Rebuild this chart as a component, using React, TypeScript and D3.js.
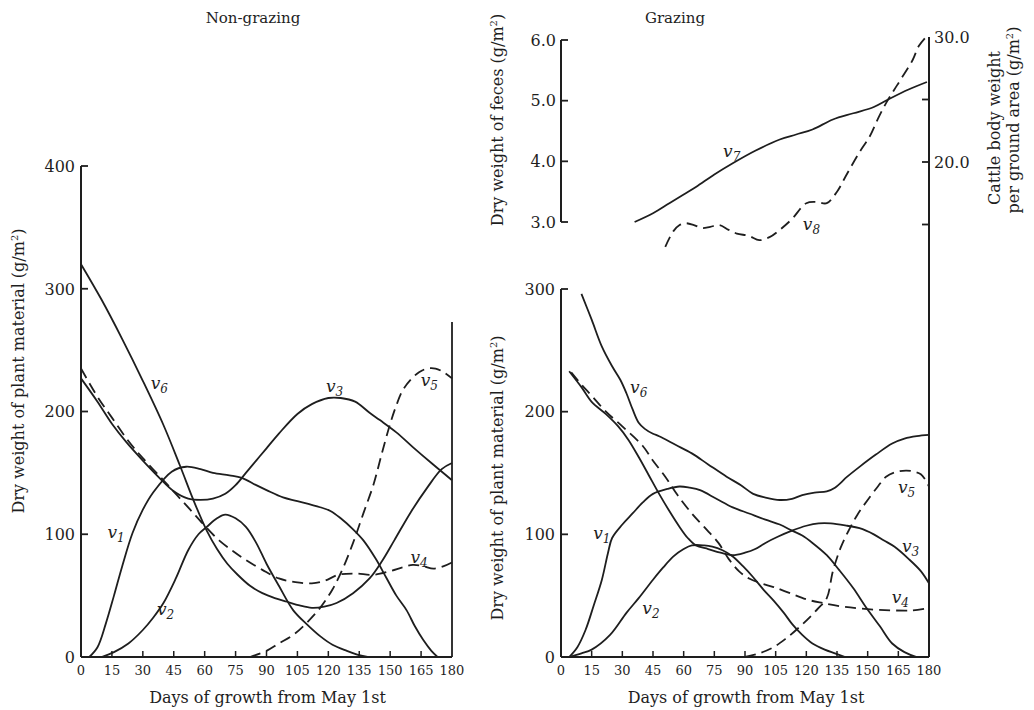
import React from 'react';
import * as d3 from 'd3';

type Pt = [number, number];

// ---- Non-grazing (left) : days, g/m2
const ngV1: Pt[] = [[4,0],[8,8],[12,27],[16,50],[20,74],[25,101],[30,120],[35,134],[44,151],[51,155],[58,153],[64,150],[72,148],[78,146],[85,140],[90,136],[98,130],[105,127],[116,122],[121,119],[126,113],[132,104],[137,95],[143,80],[148,65],[153,50],[158,38],[162,25],[166,14],[170,5],[173,0]];
const ngV2: Pt[] = [[10,0],[16,4],[23,11],[30,22],[35,32],[40,44],[46,64],[52,87],[57,100],[61,106],[66,113],[70,116],[75,113],[80,106],[85,93],[90,76],[96,58],[103,38],[110,26],[116,17],[122,10],[129,5],[134,2],[139,0]];
const ngV3: Pt[] = [[0,227],[8,208],[15,190],[22,175],[30,160],[38,146],[45,135],[52,129],[58,128],[64,129],[70,133],[75,140],[80,150],[85,160],[90,170],[96,182],[105,198],[112,206],[120,211],[126,211],[133,208],[140,199],[145,193],[153,183],[161,171],[170,158],[180,144]];
const ngV4: Pt[] = [[0,235],[8,212],[15,195],[23,176],[30,162],[40,144],[47,131],[53,120],[60,107],[67,95],[74,86],[80,79],[88,71],[96,64],[104,61],[112,60],[118,62],[125,67],[133,68],[142,67],[150,70],[156,73],[161,75],[166,74],[171,72],[176,74],[180,77]];
const ngV5: Pt[] = [[82,0],[90,5],[96,11],[103,18],[109,27],[116,40],[122,55],[127,72],[132,93],[137,117],[142,141],[146,166],[150,190],[153,205],[156,217],[160,226],[164,232],[168,235],[172,235],[176,232],[180,227]];
const ngV6: Pt[] = [[0,320],[10,291],[20,259],[30,225],[40,189],[48,156],[55,126],[61,103],[66,88],[71,76],[76,67],[82,58],[88,52],[94,48],[100,45],[106,42],[112,40],[118,41],[124,44],[132,52],[140,64],[146,78],[152,95],[160,118],[168,138],[175,153],[180,158]];

// ---- Grazing (right lower)
const gV1: Pt[] = [[4,0],[8,8],[12,22],[16,42],[20,63],[23,85],[25,97],[30,108],[35,117],[40,126],[45,133],[52,137],[58,139],[63,138],[68,136],[76,129],[84,122],[92,117],[100,112],[107,108],[113,103],[118,99],[123,93],[130,83],[136,71],[143,56],[149,41],[156,25],[162,11],[168,4],[174,0]];
const gV2: Pt[] = [[4,0],[10,3],[15,6],[24,18],[32,36],[38,48],[45,63],[50,73],[55,82],[60,88],[64,91],[70,91],[74,90],[79,87],[84,82],[89,74],[94,65],[99,55],[104,46],[109,36],[113,27],[118,18],[123,11],[129,6],[134,3],[139,0]];
const gV3: Pt[] = [[4,233],[10,220],[15,208],[22,198],[28,188],[33,177],[38,163],[43,148],[48,133],[53,119],[58,106],[62,97],[66,91],[72,88],[78,85],[84,83],[90,85],[95,88],[100,93],[106,98],[113,103],[120,107],[126,109],[132,109],[140,107],[146,105],[153,100],[158,95],[163,90],[170,80],[176,70],[180,60]];
const gV4: Pt[] = [[5,232],[10,222],[15,213],[22,200],[30,188],[40,172],[45,160],[51,147],[57,132],[64,117],[70,106],[77,93],[82,80],[87,70],[92,64],[98,60],[104,57],[112,52],[120,47],[128,44],[138,41],[150,39],[162,38],[172,38],[180,40]];
const gV5: Pt[] = [[90,0],[97,3],[104,8],[110,15],[117,25],[122,33],[126,40],[130,48],[133,70],[137,90],[141,104],[145,116],[150,128],[155,139],[159,147],[164,151],[169,152],[173,151],[176,149],[178,145],[180,139]];
const gV6: Pt[] = [[10,296],[15,275],[20,253],[25,237],[29,226],[32,215],[35,202],[38,191],[41,186],[45,182],[48,180],[56,173],[64,166],[72,157],[81,147],[88,140],[94,133],[100,130],[107,128],[113,129],[118,132],[124,134],[130,135],[134,138],[140,147],[146,155],[154,165],[162,174],[168,178],[174,180],[180,181]];

// ---- Grazing (top): v7 cattle body weight, v8 feces
const gV7: Pt[] = [[36,15.2],[45,15.9],[53,16.7],[60,17.4],[66,18.0],[75,19.0],[84,19.9],[95,20.9],[107,21.8],[115,22.2],[123,22.6],[133,23.4],[143,23.9],[153,24.4],[160,25.0],[170,25.8],[179,26.4]];
const gV8: Pt[] = [[51,2.59],[55,2.85],[58,2.95],[61,2.98],[65,2.95],[69,2.90],[73,2.92],[77.5,2.95],[82,2.87],[86,2.81],[92,2.77],[97,2.70],[102,2.75],[107,2.87],[113,3.05],[120,3.31],[125,3.33],[130,3.31],[135,3.50],[140,3.80],[146,4.15],[151,4.41],[155,4.70],[159,4.96],[163,5.18],[166,5.34],[172,5.67],[175,5.90],[178,6.03]];

const dayTicks = [0, 15, 30, 45, 60, 75, 90, 105, 120, 135, 150, 165, 180];
const leftTicks = [0, 100, 200, 300, 400];
const rightTicks = [0, 100, 200, 300];
const fecesTicks = [3, 4, 5, 6];
const cattleTicks = [15, 20, 25, 30];
const cattleLabelled = [20, 30];

// label positions in data units
const ngLabels: [string, number, number][] = [['6', 38, 222], ['3', 123, 220], ['5', 169, 225], ['1', 17, 101], ['2', 41, 38], ['4', 164, 81]];
const gLabels: [string, number, number][] = [['6', 38, 219], ['1', 20, 100], ['2', 44, 39], ['5', 169, 138], ['3', 171, 90], ['4', 166, 48]];

const INK = '#1e1e1e';
const SERIF = '"DejaVu Serif", "Liberation Serif", serif';

const xL = d3.scaleLinear().domain([0, 180]).range([81, 452]);
const yL = d3.scaleLinear().domain([0, 400]).range([657, 166]);
const xR = d3.scaleLinear().domain([0, 180]).range([561, 929]);
const yR = d3.scaleLinear().domain([0, 300]).range([657, 289]);
const yFeces = d3.scaleLinear().domain([3, 6]).range([222, 40]);
const yCattle = d3.scaleLinear().domain([15, 30]).range([224.5, 37]);

const mkLine = (x: d3.ScaleLinear<number, number>, y: d3.ScaleLinear<number, number>) =>
  d3.line<Pt>().x(d => x(d[0])).y(d => y(d[1])).curve(d3.curveCatmullRom.alpha(0.5));

const Curve = ({ d, dashed }: { d: string | null; dashed?: boolean }) => (
  <path d={d || ''} fill="none" stroke={INK} strokeWidth={1.8} strokeDasharray={dashed ? '11,6' : undefined} />
);

const VLabel = ({ sub, x, y }: { sub: string; x: number; y: number }) => (
  <text x={x} y={y} fontFamily={SERIF} fontStyle="italic" fill={INK} textAnchor="middle" fontSize={17}>
    v<tspan fontSize={12} dy={4}>{sub}</tspan>
  </text>
);

const XAxis = ({ x }: { x: d3.ScaleLinear<number, number> }) => (
  <g>
    <line x1={x(0)} x2={x(180)} y1={657} y2={657} stroke={INK} strokeWidth={2} />
    {dayTicks.map(t => (
      <g key={t}>
        {t > 0 && t < 180 && <line x1={x(t)} x2={x(t)} y1={657} y2={651} stroke={INK} strokeWidth={1.5} />}
        <text x={x(t)} y={675} textAnchor="middle" fontFamily={SERIF} fontSize={13} fill={INK}>{t}</text>
      </g>
    ))}
    <text x={(x(0) + x(180)) / 2 + 1} y={703} textAnchor="middle" fontFamily={SERIF} fontSize={16} fill={INK}>
      Days of growth from May 1st
    </text>
  </g>
);

const YAxisLeft = ({ ax, y, ticks, fmt, top }: { ax: number; y: d3.ScaleLinear<number, number>; ticks: number[]; fmt: (v: number) => string; top: number }) => (
  <g>
    <line x1={ax} x2={ax} y1={y(top)} y2={y(ticks[0])} stroke={INK} strokeWidth={2} />
    {ticks.map(t => (
      <g key={t}>
        <line x1={ax} x2={ax + 7} y1={y(t)} y2={y(t)} stroke={INK} strokeWidth={1.8} />
        <text x={ax - 6} y={y(t)} dy="0.36em" textAnchor="end" fontFamily={SERIF} fontSize={16} fill={INK}>{fmt(t)}</text>
      </g>
    ))}
  </g>
);

export default function App() {
  const lineL = mkLine(xL, yL);
  const lineR = mkLine(xR, yR);
  const lineF = mkLine(xR, yFeces);
  const lineC = mkLine(xR, yCattle);

  return (
    <svg width={1034} height={710} style={{ position: 'absolute', left: 0, top: 0, background: 'white' }}>
      {/* titles */}
      <text x={253} y={23} textAnchor="middle" fontFamily={SERIF} fontSize={15} fill={INK}>Non-grazing</text>
      <text x={675} y={23} textAnchor="middle" fontFamily={SERIF} fontSize={15} fill={INK}>Grazing</text>

      {/* ---- left panel ---- */}
      <YAxisLeft ax={xL(0)} y={yL} ticks={leftTicks} fmt={v => String(v)} top={400} />
      <line x1={xL(180)} x2={xL(180)} y1={322} y2={657} stroke={INK} strokeWidth={1.8} />
      <XAxis x={xL} />
      <text transform={`translate(24,371) rotate(-90)`} textAnchor="middle" fontFamily={SERIF} fontSize={16} fill={INK}>
        Dry weight of plant material  (g/m<tspan fontSize={10} dy={-6}>2</tspan><tspan dy={6}>)</tspan>
      </text>
      <Curve d={lineL(ngV6)} />
      <Curve d={lineL(ngV1)} />
      <Curve d={lineL(ngV2)} />
      <Curve d={lineL(ngV3)} />
      <Curve d={lineL(ngV4)} dashed />
      <Curve d={lineL(ngV5)} dashed />
      {ngLabels.map(([s, dx, v]) => <VLabel key={s} sub={s} x={xL(dx)} y={yL(v) + 5} />)}

      {/* ---- right lower panel ---- */}
      <YAxisLeft ax={xR(0)} y={yR} ticks={rightTicks} fmt={v => String(v)} top={300} />
      <XAxis x={xR} />
      <text transform={`translate(503,478) rotate(-90)`} textAnchor="middle" fontFamily={SERIF} fontSize={16} fill={INK}>
        Dry weight of plant material  (g/m<tspan fontSize={10} dy={-6}>2</tspan><tspan dy={6}>)</tspan>
      </text>
      <Curve d={lineR(gV6)} />
      <Curve d={lineR(gV1)} />
      <Curve d={lineR(gV2)} />
      <Curve d={lineR(gV3)} />
      <Curve d={lineR(gV4)} dashed />
      <Curve d={lineR(gV5)} dashed />
      {gLabels.map(([s, dx, v]) => <VLabel key={s} sub={s} x={xR(dx)} y={yR(v) + 5} />)}

      {/* ---- right top panel ---- */}
      <line x1={xR(0)} x2={xR(0)} y1={yFeces(6)} y2={yFeces(3)} stroke={INK} strokeWidth={2} />
      {fecesTicks.map(t => (
        <g key={t}>
          <line x1={xR(0)} x2={xR(0) + 7} y1={yFeces(t)} y2={yFeces(t)} stroke={INK} strokeWidth={1.8} />
          <text x={xR(0) - 5} y={yFeces(t)} dy="0.36em" textAnchor="end" fontFamily={SERIF} fontSize={16} fill={INK}>{t.toFixed(1)}</text>
        </g>
      ))}
      <text transform={`translate(503,120) rotate(-90)`} textAnchor="middle" fontFamily={SERIF} fontSize={16} fill={INK}>
        Dry weight of feces  (g/m<tspan fontSize={10} dy={-6}>2</tspan><tspan dy={6}>)</tspan>
      </text>
      <line x1={xR(180)} x2={xR(180)} y1={yCattle(30)} y2={657} stroke={INK} strokeWidth={2} />
      {cattleTicks.filter(t => t < 30).map(t => (
        <line key={t} x1={xR(180) - 7} x2={xR(180)} y1={yCattle(t)} y2={yCattle(t)} stroke={INK} strokeWidth={1.8} />
      ))}
      {cattleLabelled.map(t => (
        <text key={t} x={xR(180) + 5} y={yCattle(t)} dy="0.36em" fontFamily={SERIF} fontSize={16} fill={INK}>{t.toFixed(1)}</text>
      ))}
      <text transform={`translate(1000,128) rotate(-90)`} textAnchor="middle" fontFamily={SERIF} fontSize={16} fill={INK}>
        Cattle body weight
      </text>
      <text transform={`translate(1019,120) rotate(-90)`} textAnchor="middle" fontFamily={SERIF} fontSize={16} fill={INK}>
        per ground area  (g/m<tspan fontSize={10} dy={-6}>2</tspan><tspan dy={6}>)</tspan>
      </text>
      <Curve d={lineC(gV7)} />
      <Curve d={lineF(gV8)} dashed />
      <VLabel sub="7" x={xR(83.5)} y={yCattle(20.8) + 5} />
      <VLabel sub="8" x={xR(122.5)} y={yFeces(2.95) + 5} />
    </svg>
  );
}
